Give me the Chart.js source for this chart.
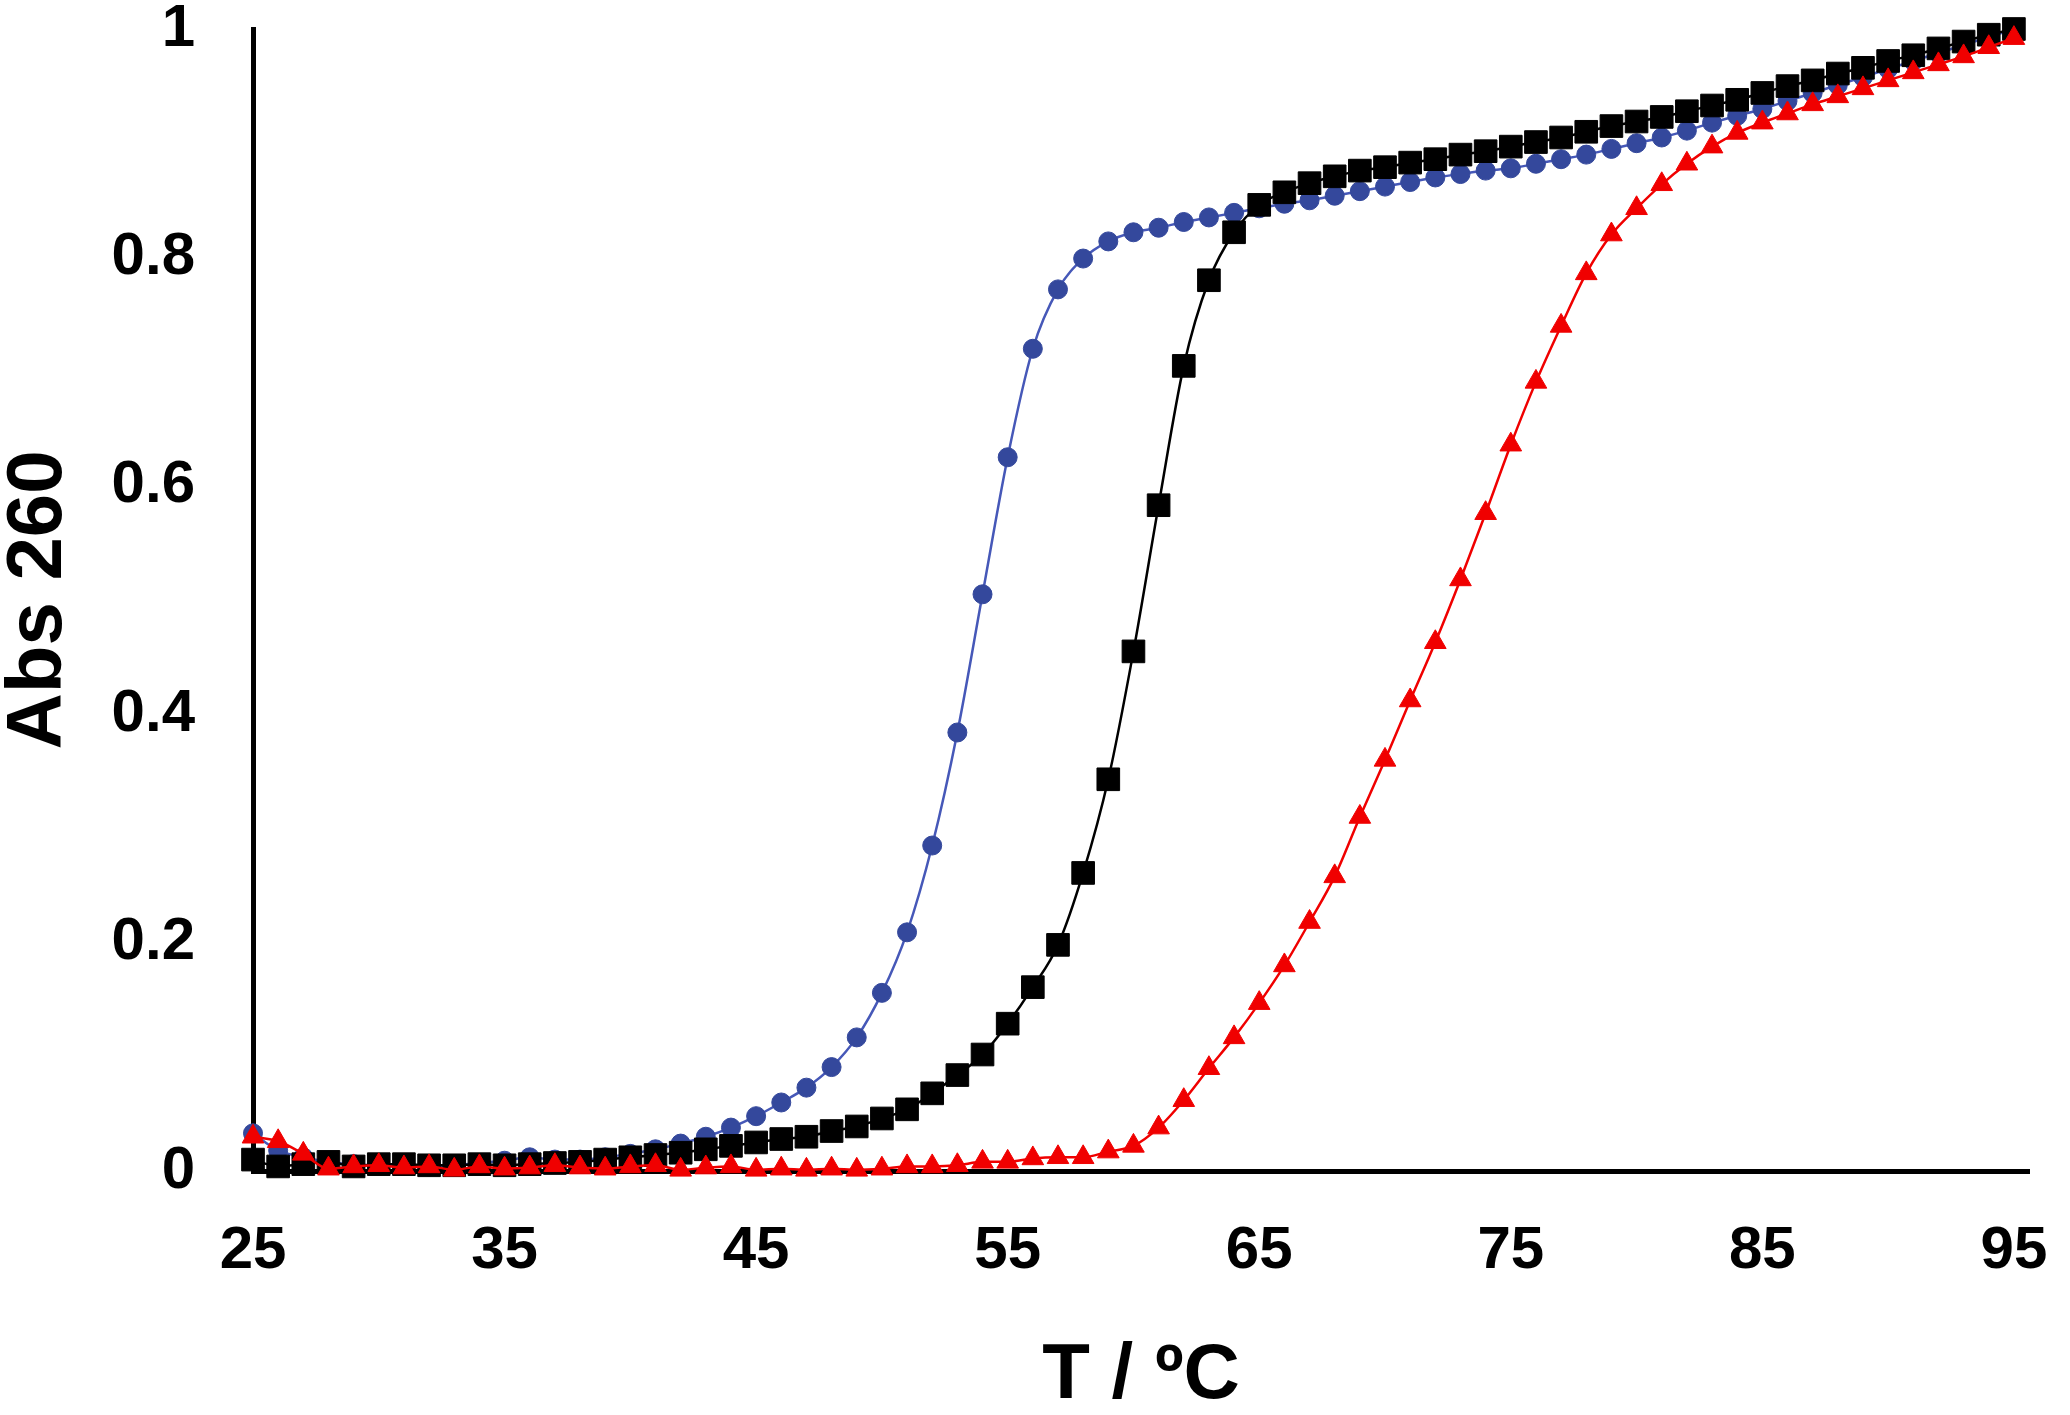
<!DOCTYPE html>
<html lang="en">
  <head>
    <meta charset="UTF-8" />
    <title>Abs 260 melting curves</title>
    <script src="https://cdn.jsdelivr.net/npm/chart.js@4.4.1/dist/chart.umd.min.js"></script>
    <style>
      html, body { margin: 0; background: #fff; }
      canvas { display: block; }
    </style>
  </head>
  <body>
    <canvas id="chart" width="2070" height="1415"></canvas>
    <script>
      // temperature (ºC) of each reading
      const temps = [25, 26, 27, 28, 29, 30, 31, 32, 33, 34, 35, 36, 37, 38, 39, 40, 41, 42, 43, 44,
        45, 46, 47, 48, 49, 50, 51, 52, 53, 54, 55, 56, 57, 58, 59, 60, 61, 62, 63, 64,
        65, 66, 67, 68, 69, 70, 71, 72, 73, 74, 75, 76, 77, 78, 79, 80, 81, 82, 83, 84,
        85, 86, 87, 88, 89, 90, 91, 92, 93, 94, 95];

      const absBlue = [0.033, 0.018, 0.012, 0.008, 0.006, 0.005, 0.005, 0.004, 0.005, 0.007,
        0.009, 0.012, 0.010, 0.010, 0.012, 0.015, 0.019, 0.024, 0.030, 0.038,
        0.048, 0.060, 0.073, 0.091, 0.117, 0.156, 0.209, 0.285, 0.384, 0.505,
        0.625, 0.720, 0.772, 0.799, 0.814, 0.822, 0.826, 0.831, 0.835, 0.839,
        0.843, 0.847, 0.850, 0.854, 0.858, 0.862, 0.866, 0.870, 0.873, 0.876,
        0.878, 0.882, 0.886, 0.890, 0.895, 0.900, 0.905, 0.911, 0.918, 0.924,
        0.930, 0.937, 0.944, 0.951, 0.958, 0.965, 0.972, 0.979, 0.986, 0.993, 1.000];

      const absBlack = [0.010, 0.004, 0.006, 0.008, 0.004, 0.006, 0.006, 0.005, 0.005, 0.006,
        0.005, 0.006, 0.007, 0.008, 0.010, 0.012, 0.014, 0.016, 0.019, 0.022,
        0.025, 0.028, 0.030, 0.035, 0.039, 0.046, 0.054, 0.068, 0.084, 0.102,
        0.129, 0.161, 0.198, 0.261, 0.343, 0.455, 0.583, 0.705, 0.780, 0.822,
        0.846, 0.857, 0.865, 0.871, 0.876, 0.879, 0.883, 0.886, 0.890, 0.893,
        0.897, 0.901, 0.905, 0.910, 0.915, 0.919, 0.923, 0.928, 0.933, 0.938,
        0.944, 0.950, 0.955, 0.961, 0.966, 0.972, 0.977, 0.983, 0.989, 0.995, 1.000];

      const absRed = [0.030, 0.026, 0.015, 0.002, 0.004, 0.005, 0.003, 0.004, 0.001, 0.004,
        0.002, 0.003, 0.005, 0.003, 0.002, 0.004, 0.005, 0.001, 0.003, 0.004,
        0.001, 0.002, 0.001, 0.002, 0.001, 0.002, 0.004, 0.004, 0.005, 0.008,
        0.008, 0.011, 0.012, 0.012, 0.017, 0.022, 0.038, 0.062, 0.090, 0.117,
        0.147, 0.180, 0.218, 0.258, 0.310, 0.360, 0.412, 0.463, 0.518, 0.576,
        0.636, 0.691, 0.740, 0.786, 0.820, 0.843, 0.864, 0.882, 0.897, 0.909,
        0.918, 0.926, 0.934, 0.941, 0.948, 0.955, 0.962, 0.969, 0.976, 0.984, 0.992];

      const xTicks = [25, 35, 45, 55, 65, 75, 85, 95];
      const yTicks = [0, 0.2, 0.4, 0.6, 0.8, 1];

      const pts = (vals) => vals.map((y, i) => ({ x: temps[i], y }));

      Chart.defaults.font.family = "'Liberation Sans', Arial, sans-serif";
      Chart.defaults.font.weight = "bold";
      Chart.defaults.color = "#000";

      const series = (data, color, lineColor, style, radius, order) => ({
        data: pts(data),
        borderColor: lineColor,
        borderWidth: 2.5,
        pointStyle: style,
        pointRadius: radius,
        pointHoverRadius: radius,
        pointBackgroundColor: color,
        pointBorderColor: color,
        pointBorderWidth: 1,
        cubicInterpolationMode: "monotone",
        clip: false,
        order,
      });

      // keep the plot box where the reference has it, whatever the labels need
      const noPad = (s) => {
        s.paddingTop = 0;
        s.paddingBottom = 0;
        s.paddingLeft = 0;
        s.paddingRight = 0;
      };

      new Chart(document.getElementById("chart"), {
        type: "line",
        data: {
          datasets: [
            series(absRed, "#f00000", "#f00000", "triangle", 12.5, 0),
            series(absBlack, "#000000", "#000000", "rect", 16, 1),
            series(absBlue, "#34489c", "#4658b8", "circle", 9.5, 2),
          ],
        },
        options: {
          responsive: false,
          animation: false,
          devicePixelRatio: 1,
          layout: { padding: { top: 29, right: 41, bottom: 0, left: 0 } },
          plugins: { legend: { display: false }, tooltip: { enabled: false } },
          scales: {
            x: {
              type: "linear",
              min: 25,
              max: 95.6,
              grid: { display: false, drawTicks: false },
              border: { display: true, color: "#000", width: 5 },
              afterBuildTicks: (s) => { s.ticks = xTicks.map((v) => ({ value: v })); },
              afterFit: (s) => { s.height = 244; noPad(s); },
              ticks: {
                padding: 50,
                font: { size: 60, weight: "bold", lineHeight: 1 },
                callback: (v) => String(v),
              },
              title: {
                display: true,
                text: "T / ºC",
                font: { size: 78, weight: "bold", lineHeight: 1 },
                padding: 0,
              },
            },
            y: {
              min: 0,
              max: 1,
              grid: { display: false, drawTicks: false },
              border: { display: true, color: "#000", width: 5 },
              afterBuildTicks: (s) => { s.ticks = yTicks.map((v) => ({ value: v })); },
              afterFit: (s) => { s.width = 253; noPad(s); },
              ticks: {
                padding: 58,
                font: { size: 60, weight: "bold", lineHeight: 1 },
                callback: (v) => String(v),
              },
              title: {
                display: true,
                text: "Abs 260",
                font: { size: 78, weight: "bold", lineHeight: 1 },
                padding: 0,
              },
            },
          },
        },
      });
    </script>
  </body>
</html>
